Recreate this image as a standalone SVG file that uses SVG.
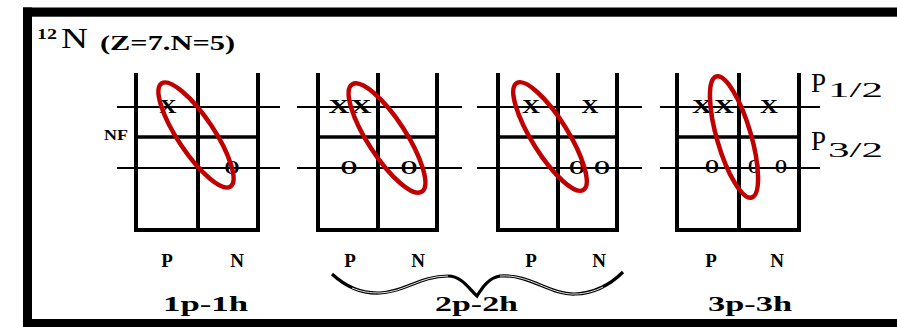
<svg xmlns="http://www.w3.org/2000/svg" width="897" height="327" viewBox="0 0 897 327">
<style>
.frame{fill:#000}
.v{stroke:#000;stroke-width:4;fill:none}
.mid{stroke:#000;stroke-width:3.5;fill:none}
.lvl{stroke:#000;stroke-width:1.8;fill:none}
.ell{fill:none;stroke:#c00000;stroke-width:4.5}
.mark{font-family:"Liberation Serif",serif;font-weight:bold;font-size:19px;text-anchor:middle}
.hole{font-family:"Liberation Serif",serif;font-weight:bold;font-size:18px;text-anchor:middle}
.lab{font-family:"Liberation Serif",serif;font-weight:bold;font-size:19px;text-anchor:middle}
.cap{font-family:"Liberation Serif",serif;font-weight:bold;font-size:20px}
.ser{font-family:"Liberation Serif",serif}
</style>
<rect width="897" height="327" fill="#fff"/>
<g id="frame">
<rect class="frame" x="23" y="7.5" width="874" height="9.2"/>
<rect class="frame" x="23" y="7.5" width="9" height="320"/>
<rect class="frame" x="23" y="319" width="874" height="8"/>
</g>
<g id="title">
<text x="37" y="39" font-family="Liberation Serif,serif" font-weight="bold" font-size="15" textLength="20" lengthAdjust="spacingAndGlyphs">12</text>
<text x="61" y="48" class="ser" font-size="30" textLength="27" lengthAdjust="spacingAndGlyphs">N</text>
<text x="100" y="50" font-family="Liberation Serif,serif" font-weight="bold" font-size="21" textLength="135" lengthAdjust="spacingAndGlyphs">(Z=7.N=5)</text>
</g>
<g id="box1">
<path class="lvl" d="M117,107H280M117,168H280"/>
<path class="v" d="M136,73V230M198,73V230M258,73V230M134,230H260"/>
<path class="mid" d="M136,137H258"/>
<text class="mark" x="168" y="113" textLength="17" lengthAdjust="spacingAndGlyphs">X</text>
<text class="hole" x="232" y="174" textLength="15" lengthAdjust="spacingAndGlyphs">O</text>
<ellipse class="ell" cx="0" cy="0" rx="62" ry="18" transform="translate(196,135) rotate(56.3)"/>
</g>
<g id="box2">
<path class="lvl" d="M297,107H462M297,168H462"/>
<path class="v" d="M318,73V230M378,73V230M437,73V230M316,230H439"/>
<path class="mid" d="M318,137H437"/>
<text class="mark" x="339" y="113" textLength="21" lengthAdjust="spacingAndGlyphs">X</text>
<text class="mark" x="361" y="113" textLength="21" lengthAdjust="spacingAndGlyphs">X</text>
<text class="hole" x="349" y="174" textLength="17" lengthAdjust="spacingAndGlyphs">O</text>
<text class="hole" x="409" y="174" textLength="17" lengthAdjust="spacingAndGlyphs">O</text>
<ellipse class="ell" cx="0" cy="0" rx="64" ry="19" transform="translate(387,138) rotate(57)"/>
</g>
<g id="box3">
<path class="lvl" d="M477,107H642M477,168H642"/>
<path class="v" d="M498,73V230M558,73V230M617,73V230M496,230H619"/>
<path class="mid" d="M498,137H617"/>
<text class="mark" x="531" y="113" textLength="18" lengthAdjust="spacingAndGlyphs">X</text>
<text class="mark" x="590" y="113" textLength="17" lengthAdjust="spacingAndGlyphs">X</text>
<text class="hole" x="577" y="174" textLength="16" lengthAdjust="spacingAndGlyphs">O</text>
<text class="hole" x="602" y="174" textLength="16" lengthAdjust="spacingAndGlyphs">O</text>
<ellipse class="ell" cx="0" cy="0" rx="63" ry="18" transform="translate(550,136.5) rotate(58)"/>
</g>
<g id="box4">
<path class="lvl" d="M660,107H820M660,168H820"/>
<path class="v" d="M677,73V230M739,73V230M799,73V230M675,230H801"/>
<path class="mid" d="M677,137H799"/>
<text class="mark" x="702" y="113" font-size="17" textLength="20" lengthAdjust="spacingAndGlyphs">X</text>
<text class="mark" x="724" y="113" font-size="17" textLength="20" lengthAdjust="spacingAndGlyphs">X</text>
<text class="mark" x="769" y="113" font-size="17" textLength="18" lengthAdjust="spacingAndGlyphs">X</text>
<text class="hole" x="712" y="173" font-size="15" textLength="14" lengthAdjust="spacingAndGlyphs">O</text>
<text class="hole" x="754" y="173" font-size="15" textLength="12" lengthAdjust="spacingAndGlyphs">O</text>
<text class="hole" x="781" y="173" font-size="15" textLength="12" lengthAdjust="spacingAndGlyphs">O</text>
<ellipse class="ell" cx="0" cy="0" rx="63" ry="17" transform="translate(734,137) rotate(73.7)"/>
</g>
<g id="levels">
<text x="811" y="92" class="ser" font-size="27">P</text>
<text x="828" y="97" class="ser" font-size="20" textLength="55" lengthAdjust="spacingAndGlyphs">1/2</text>
<text x="811" y="150" class="ser" font-size="27">P</text>
<text x="828" y="157" class="ser" font-size="20" textLength="55" lengthAdjust="spacingAndGlyphs">3/2</text>
<text x="104" y="140" font-family="Liberation Serif,serif" font-weight="bold" font-size="15" textLength="24" lengthAdjust="spacingAndGlyphs">NF</text>
</g>
<g id="labels">
<text class="lab" x="167" y="267">P</text>
<text class="lab" x="237" y="267">N</text>
<text class="lab" x="350" y="267">P</text>
<text class="lab" x="418" y="267">N</text>
<text class="lab" x="531" y="267">P</text>
<text class="lab" x="599" y="267">N</text>
<text class="lab" x="711" y="267">P</text>
<text class="lab" x="777" y="267">N</text>
<text class="cap" x="163" y="311" textLength="85" lengthAdjust="spacingAndGlyphs">1p-1h</text>
<text class="cap" x="435" y="311" textLength="83" lengthAdjust="spacingAndGlyphs">2p-2h</text>
<text class="cap" x="708" y="311" textLength="84" lengthAdjust="spacingAndGlyphs">3p-3h</text>
</g>
<g id="connectors">
<path d="M332,274 C345,286 360,294 380,293 C405,292 420,276 448,276 C462,276 470,290 477,296 C482,288 488,278 500,276 C530,274 550,295 575,294 C600,293 615,280 623,272" fill="none" stroke="#000" stroke-width="3.2"/>
<path d="M352,288 C362,292 370,293 380,293 C405,292 420,276 448,276 M500,276 C530,274 550,295 575,294 C585,294 595,291 603,287" fill="none" stroke="#fff" stroke-width="0.9"/>
</g>
</svg>
